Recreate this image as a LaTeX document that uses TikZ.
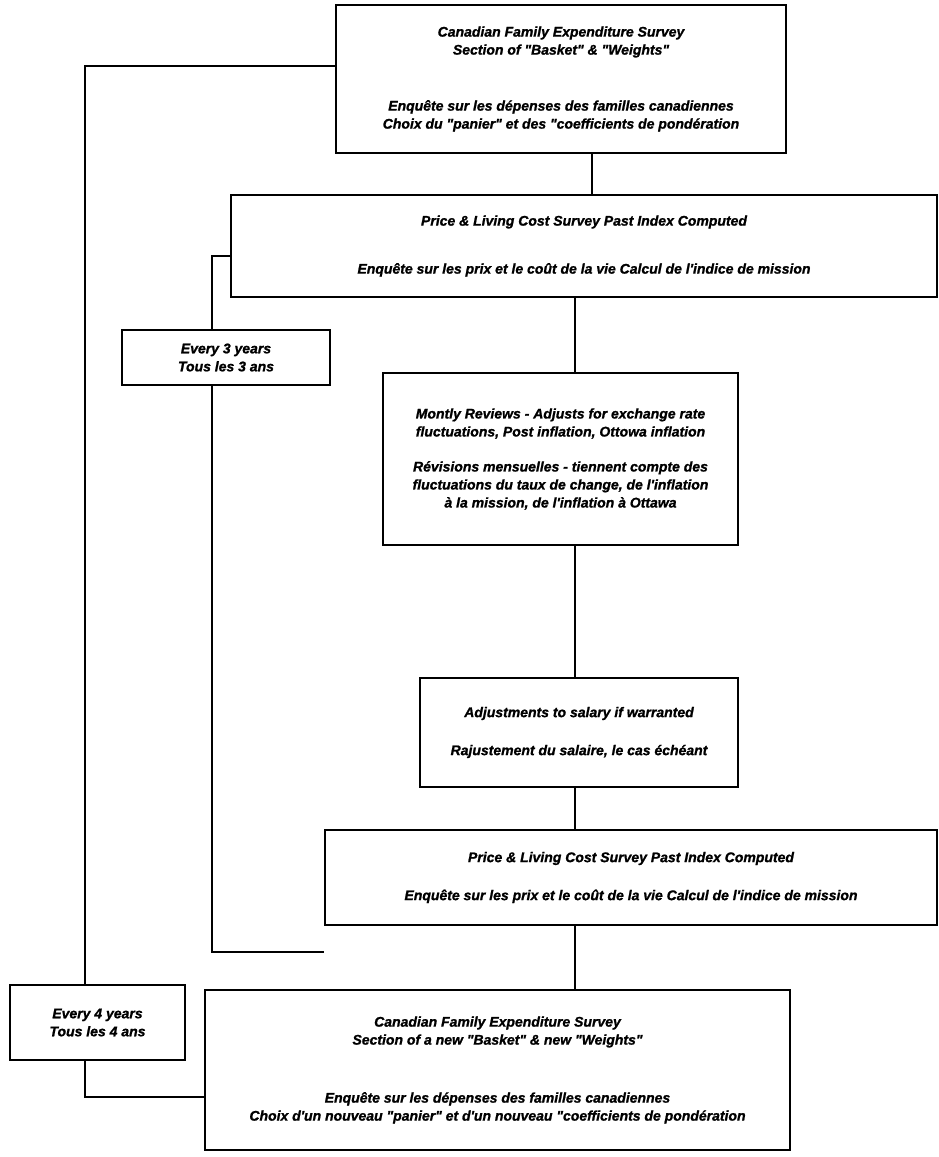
\documentclass[tikz,border=0pt]{standalone}
\usepackage{fontspec}
\newfontfamily\boxfont[FakeBold=1.2]{Liberation Sans}
\usetikzlibrary{calc}
\begin{document}
\begin{tikzpicture}[x=1pt,y=-1pt,
  box/.style={draw, line width=2.6pt, inner sep=0pt, align=center,
    font=\boxfont\bfseries\itshape\fontsize{14}{18}\selectfont},
  link/.style={line width=2pt}]
\useasboundingbox (0,0) rectangle (939,1157);

% boxes of the cycle
\node[box, minimum width=450pt, minimum height=148pt] (b1) at (561,79)
  {Canadian Family Expenditure Survey\\
   Section of "Basket" \& "Weights"\\[38pt]
   Enquête sur les dépenses des familles canadiennes\\
   Choix du "panier" et des "coefficients de pondération};
\node[box, minimum width=706pt, minimum height=102pt] (b2) at (584,246)
  {Price \& Living Cost Survey Past Index Computed\\[30pt]
   Enquête sur les prix et le coût de la vie Calcul de l'indice de mission};
\node[box, minimum width=208pt, minimum height=55pt] (b3) at (226,357.5)
  {Every 3 years\\Tous les 3 ans};
\node[box, minimum width=355pt, minimum height=172pt] (b4) at (560.5,459)
  {Montly Reviews - Adjusts for exchange rate\\
   fluctuations, Post inflation, Ottowa inflation\\[17pt]
   Révisions mensuelles - tiennent compte des\\
   fluctuations du taux de change, de l'inflation\\
   à la mission, de l'inflation à Ottawa};
\node[box, minimum width=318pt, minimum height=109pt] (b5) at (579,732.5)
  {Adjustments to salary if warranted\\[20pt]
   Rajustement du salaire, le cas échéant};
\node[box, minimum width=612pt, minimum height=95pt] (b6) at (631,877.5)
  {Price \& Living Cost Survey Past Index Computed\\[20pt]
   Enquête sur les prix et le coût de la vie Calcul de l'indice de mission};
\node[box, minimum width=175pt, minimum height=75pt] (b7) at (97.5,1022.5)
  {Every 4 years\\Tous les 4 ans};
\node[box, minimum width=585pt, minimum height=160pt] (b8) at (497.5,1070)
  {Canadian Family Expenditure Survey\\
   Section of a new "Basket" \& new "Weights"\\[40pt]
   Enquête sur les dépenses des familles canadiennes\\
   Choix d'un nouveau "panier" et d'un nouveau "coefficients de pondération};

% bends of the loops and the main spine
\coordinate (k1) at (85,66);
\coordinate (k2) at (85,1097);
\coordinate (k3) at (212,256);
\coordinate (k4) at (212,952);
\coordinate (s1) at (592,0);
\coordinate (s2) at (575,0);

% four-year loop
\draw[link] (b1.west |- k1) -- (k1) -- (k1 |- b7.north);
\draw[link] (k2 |- b7.south) -- (k2) -- (b8.west |- k2);
% three-year loop
\draw[link] (b2.west |- k3) -- (k3) -- (k3 |- b3.north);
\draw[link] (k4 |- b3.south) -- (k4) -- (b6.west |- k4);
% main sequence
\draw[link] (b1.south -| s1) -- (b2.north -| s1);
\draw[link] (b2.south -| s2) -- (b4.north -| s2);
\draw[link] (b4.south -| s2) -- (b5.north -| s2);
\draw[link] (b5.south -| s2) -- (b6.north -| s2);
\draw[link] (b6.south -| s2) -- (b8.north -| s2);
\end{tikzpicture}
\end{document}
